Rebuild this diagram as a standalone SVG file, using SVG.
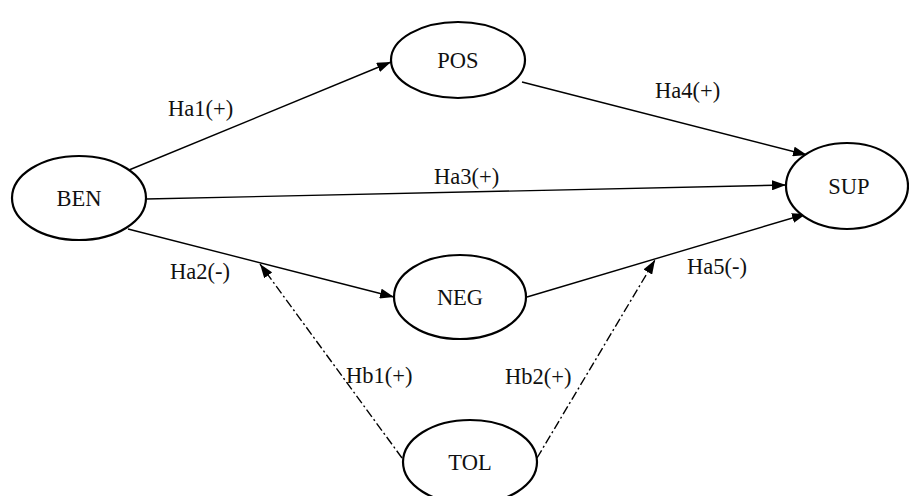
<svg xmlns="http://www.w3.org/2000/svg" width="909" height="496" viewBox="0 0 909 496">
<defs>
<marker id="arr" viewBox="0 0 14 10" refX="14" refY="5" markerWidth="14" markerHeight="10" markerUnits="userSpaceOnUse" orient="auto">
<path d="M0,0 L14,5 L0,10 z" fill="#000"/>
</marker>
<style>
.node ellipse{fill:#fff;stroke:#000;stroke-width:2.2}
text{font-family:"Liberation Serif","Times New Roman",serif;font-size:22.5px;fill:#111}
.node text{text-anchor:middle}
.edge{stroke:#000;stroke-width:1.4;fill:none;marker-end:url(#arr)}
.dd{stroke-dasharray:9 3 2 3}
</style>
</defs>
<rect width="909" height="496" fill="#fff"/>
<g id="connectors">
<line class="edge" x1="129" y1="170" x2="391" y2="62"/>
<line class="edge" x1="146" y1="199" x2="786" y2="185"/>
<line class="edge" x1="128" y1="229" x2="394" y2="297"/>
<line class="edge" x1="522" y1="82" x2="807" y2="155"/>
<line class="edge" x1="527" y1="297" x2="806" y2="214"/>
<line class="edge dd" x1="402" y1="458" x2="260" y2="264"/>
<line class="edge dd" x1="537" y1="458" x2="655" y2="260"/>
</g>
<g id="labels">
<text x="168" y="116">Ha1(+)</text>
<text x="655" y="98">Ha4(+)</text>
<text x="434" y="184">Ha3(+)</text>
<text x="170" y="279">Ha2(-)</text>
<text x="687" y="274">Ha5(-)</text>
<text x="346" y="383">Hb1(+)</text>
<text x="505" y="384">Hb2(+)</text>
</g>
<g id="BEN" class="node"><ellipse cx="79" cy="198" rx="67" ry="42"/><text x="79" y="206">BEN</text></g>
<g id="POS" class="node"><ellipse cx="458" cy="60" rx="67" ry="38"/><text x="458" y="68">POS</text></g>
<g id="SUP" class="node"><ellipse cx="847" cy="186" rx="61" ry="43"/><text x="849" y="194">SUP</text></g>
<g id="NEG" class="node"><ellipse cx="460" cy="297" rx="66" ry="42"/><text x="460" y="305">NEG</text></g>
<g id="TOL" class="node"><ellipse cx="470" cy="462" rx="67" ry="42"/><text x="470" y="470">TOL</text></g>
</svg>
